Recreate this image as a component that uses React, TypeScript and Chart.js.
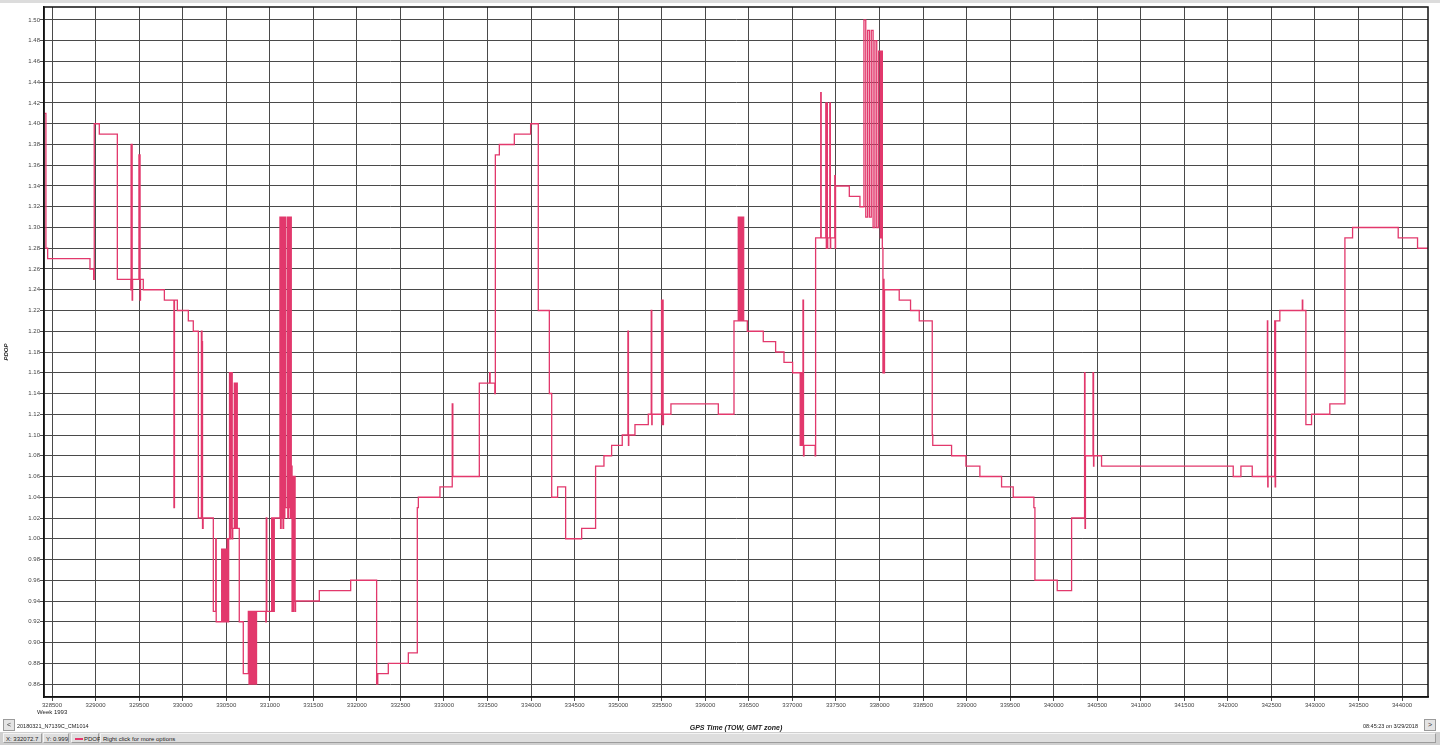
import React, { useEffect, useRef } from 'react';
import { Chart, registerables } from 'chart.js';

Chart.register(...registerables);

// GPS time of week (s) where each PDOP value starts (step series)
const gpsTime: number[] = [
  328410, 328430, 328450, 328936, 328978, 328985, 329043, 329250,
  329405, 329408, 329412, 329416, 329420, 329425,
  329498, 329503, 329507, 329511, 329516,
  329548, 329790, 329900, 329906, 329939, 330065, 330122,
  330180, 330215, 330222, 330228, 330235,
  330352, 330380, 330385,
  330448, 330456, 330464, 330472, 330480, 330488, 330496, 330504, 330512, 330520, 330528,
  330538, 330545, 330551, 330557, 330563, 330569, 330575,
  330593, 330600, 330607, 330614, 330620, 330627,
  330650, 330696,
  330754, 330762, 330770, 330778, 330786, 330794, 330802, 330810, 330818, 330826, 330834, 330842, 330848,
  330955, 330960, 330966,
  331022, 331030, 331038, 331046, 331052,
  331117, 331124, 331131, 331138, 331145, 331152, 331159, 331166, 331173, 331180,
  331200, 331207, 331214, 331221, 331228, 331235, 331242, 331247,
  331250, 331256, 331262, 331268, 331274, 331280, 331286, 331291, 331296,
  331569, 331929, 332227, 332240, 332361, 332591, 332694, 332706, 332954,
  333095, 333102, 333406, 333524, 333530, 333584, 333590, 333636, 333808, 333995,
  334083, 334210, 334237, 334305, 334397, 334581, 334741, 334837, 334925,
  335047, 335112, 335118, 335122, 335193, 335346, 335380, 335386, 335390,
  335498, 335504, 335510, 335516, 335520, 335606, 336150, 336330,
  336379, 336386, 336393, 336400, 336407, 336414, 336421, 336428, 336435, 336441,
  336483, 336666, 336808, 336904, 337003,
  337085, 337090, 337096, 337102, 337108, 337114, 337122, 337128, 337134, 337262, 337267,
  337326, 337331, 337384, 337390, 337396, 337402, 337406, 337430, 337436, 337440,
  337487, 337492, 337496, 337654, 337776,
  337822, 337843, 337864, 337885, 337906, 337927, 337948, 337969, 337990, 338011,
  338024, 338033,
  338040, 338046, 338052, 338058,
  338227, 338357, 338457, 338606, 338612, 338828, 338993, 339153, 339402, 339536,
  339773, 339785, 340041, 340206, 340355, 340360, 340365, 340452, 340458, 340462,
  340550, 342062, 342150, 342280, 342454, 342458, 342462, 342538, 342543, 342548,
  342597, 342855, 342860, 342896, 342961, 343171, 343344, 343432, 343956, 344178,
  344300,
];

const pdop: number[] = [
  1.41, 1.28, 1.27, 1.26, 1.25, 1.40, 1.39, 1.25,
  1.24, 1.38, 1.24, 1.38, 1.23, 1.25,
  1.37, 1.25, 1.37, 1.23, 1.25,
  1.24, 1.23, 1.03, 1.23, 1.22, 1.21, 1.20,
  1.02, 1.20, 1.19, 1.01, 1.02,
  0.93, 1.00, 0.92,
  0.99, 0.92, 0.99, 0.92, 0.99, 0.92, 0.99, 0.92, 1.00, 0.92, 1.00,
  1.16, 1.00, 1.16, 1.01, 1.16, 1.00, 1.01,
  1.15, 1.01, 1.15, 1.01, 1.15, 1.01,
  0.92, 0.87,
  0.93, 0.86, 0.93, 0.86, 0.93, 0.86, 0.93, 0.86, 0.93, 0.86, 0.93, 0.86, 0.93,
  0.92, 1.02, 0.93,
  1.02, 0.93, 1.02, 0.93, 1.02,
  1.31, 1.01, 1.31, 1.02, 1.31, 1.01, 1.31, 1.02, 1.31, 1.03,
  1.31, 1.02, 1.31, 1.03, 1.31, 1.02, 1.31, 1.03,
  1.07, 0.93, 1.06, 0.93, 1.06, 0.94, 1.06, 0.93, 0.94,
  0.95, 0.96, 0.86, 0.87, 0.88, 0.89, 1.03, 1.04, 1.05,
  1.13, 1.06, 1.15, 1.16, 1.15, 1.14, 1.37, 1.38, 1.39, 1.40,
  1.22, 1.14, 1.04, 1.05, 1.00, 1.01, 1.07, 1.08, 1.09,
  1.10, 1.20, 1.09, 1.10, 1.11, 1.12, 1.22, 1.11, 1.12,
  1.23, 1.11, 1.23, 1.11, 1.12, 1.13, 1.12, 1.21,
  1.31, 1.21, 1.31, 1.21, 1.31, 1.21, 1.31, 1.21, 1.31, 1.21,
  1.20, 1.19, 1.18, 1.17, 1.16,
  1.16, 1.09, 1.16, 1.09, 1.16, 1.09, 1.23, 1.08, 1.09, 1.08, 1.29,
  1.43, 1.29, 1.42, 1.28, 1.42, 1.28, 1.29, 1.42, 1.28, 1.29,
  1.35, 1.28, 1.34, 1.33, 1.32,
  1.50, 1.31, 1.49, 1.31, 1.49, 1.30, 1.48, 1.30, 1.47, 1.29,
  1.47, 1.28,
  1.16, 1.25, 1.16, 1.24,
  1.23, 1.22, 1.21, 1.10, 1.09, 1.08, 1.07, 1.06, 1.05, 1.04,
  1.03, 0.96, 0.95, 1.02, 1.16, 1.01, 1.08, 1.16, 1.07, 1.08,
  1.07, 1.06, 1.07, 1.06, 1.21, 1.05, 1.06, 1.21, 1.05, 1.21,
  1.22, 1.23, 1.22, 1.11, 1.12, 1.13, 1.29, 1.30, 1.29, 1.28,
  1.28,
];

const xTickValues: number[] = [
  328500, 329000, 329500, 330000, 330500, 331000, 331500, 332000,
  332500, 333000, 333500, 334000, 334500, 335000, 335500, 336000,
  336500, 337000, 337500, 338000, 338500, 339000, 339500, 340000,
  340500, 341000, 341500, 342000, 342500, 343000, 343500, 344000,
];

const yTickValues: number[] = [
  0.86, 0.88, 0.90, 0.92, 0.94, 0.96, 0.98, 1.00, 1.02, 1.04, 1.06,
  1.08, 1.10, 1.12, 1.14, 1.16, 1.18, 1.20, 1.22, 1.24, 1.26, 1.28,
  1.30, 1.32, 1.34, 1.36, 1.38, 1.40, 1.42, 1.44, 1.46, 1.48, 1.50,
];

const FONT = "'Liberation Sans', Arial, sans-serif";

const frameBorder = {
  id: 'frameBorder',
  afterDraw(chart: any) {
    const { ctx, chartArea } = chart;
    ctx.save();
    ctx.strokeStyle = '#111';
    ctx.lineWidth = 1.5;
    ctx.strokeRect(chartArea.left, chartArea.top, chartArea.right - chartArea.left, chartArea.bottom - chartArea.top);
    ctx.restore();
  },
};

export default function App() {
  const canvasRef = useRef<HTMLCanvasElement | null>(null);

  useEffect(() => {
    if (!canvasRef.current) return;
    const points = gpsTime.map((t, i) => ({ x: t, y: pdop[i] }));
    const chart = new Chart(canvasRef.current, {
      type: 'line',
      data: {
        datasets: [
          {
            label: 'PDOP',
            data: points,
            stepped: true,
            borderColor: '#e2386c',
            borderWidth: 1.3,
            pointRadius: 0,
            fill: false,
          },
        ],
      },
      options: {
        animation: false,
        responsive: true,
        maintainAspectRatio: false,
        layout: { padding: { left: 0, top: 7, right: 12, bottom: 14 } },
        plugins: { legend: { display: false }, tooltip: { enabled: false } },
        scales: {
          x: {
            type: 'linear',
            min: 328408,
            max: 344298,
            afterBuildTicks: (s: any) => {
              s.ticks = xTickValues.map((v) => ({ value: v }));
            },
            afterFit: (s: any) => {
              s.height = 35;
            },
            grid: { color: '#4a4a4a', lineWidth: 1, tickLength: 4 },
            border: { display: true, color: '#111', width: 1.5 },
            ticks: {
              autoSkip: false,
              maxRotation: 0,
              padding: 1,
              color: '#444',
              font: { family: FONT, size: 6 },
              callback: (v: any) => String(v),
            },
            title: {
              display: true,
              text: 'GPS Time (TOW, GMT zone)',
              color: '#222',
              padding: 0,
              font: { family: FONT, size: 7, style: 'italic', weight: 'bold' },
            },
          },
          y: {
            type: 'linear',
            min: 0.8475,
            max: 1.5125,
            afterBuildTicks: (s: any) => {
              s.ticks = yTickValues.map((v) => ({ value: v }));
            },
            afterFit: (s: any) => {
              s.width = 44;
            },
            grid: { color: '#4a4a4a', lineWidth: 1, tickLength: 4 },
            border: { display: true, color: '#111', width: 1.5 },
            ticks: {
              autoSkip: false,
              padding: 0,
              color: '#444',
              font: { family: FONT, size: 6 },
              callback: (v: any) => Number(v).toFixed(2),
            },
            title: {
              display: true,
              text: 'PDOP',
              color: '#222',
              padding: { top: 3, bottom: 0 },
              font: { family: FONT, size: 6, style: 'italic', weight: 'bold' },
            },
          },
        },
      },
      plugins: [frameBorder],
    });
    return () => chart.destroy();
  }, []);

  const small: React.CSSProperties = { position: 'absolute', fontFamily: FONT, fontSize: 6, color: '#222', whiteSpace: 'nowrap', lineHeight: '8px' };
  const btn: React.CSSProperties = {
    position: 'absolute', width: 10, height: 10, background: '#e4e4e4', border: '1px solid #9a9a9a',
    fontFamily: FONT, fontSize: 7, lineHeight: '10px', textAlign: 'center', color: '#333',
  };
  const cell: React.CSSProperties = {
    position: 'absolute', top: 1, height: 10, background: '#dedede', borderLeft: '1px solid #f4f4f4', borderTop: '1px solid #f4f4f4',
    borderRight: '1px solid #9c9c9c', borderBottom: '1px solid #9c9c9c', fontFamily: FONT, fontSize: 6, lineHeight: '10px',
    color: '#222', whiteSpace: 'nowrap', paddingLeft: 2, boxSizing: 'border-box',
  };

  return (
    <div style={{ position: 'absolute', left: 0, top: 0, width: 1440, height: 746, background: '#fff', overflow: 'hidden' }}>
      <div style={{ position: 'absolute', left: 0, top: 0, width: 1440, height: 3, background: '#dcdcdc' }} />
      <canvas ref={canvasRef} style={{ position: 'absolute', left: 0, top: 0, width: 1440, height: 746 }} />
      <div style={{ ...small, left: 37, top: 708 }}>Week 1993</div>
      <div style={{ ...btn, left: 3, top: 719 }}>&lt;</div>
      <div style={{ ...small, left: 17, top: 722, fontSize: 5.5 }}>20180321_N7139C_CM1014</div>
      <div style={{ ...small, right: 22, top: 722, fontSize: 5.5 }}>08:45:23 on 3/29/2018</div>
      <div style={{ ...btn, left: 1424, top: 719 }}>&gt;</div>
      <div style={{ position: 'absolute', left: 0, top: 732, width: 1440, height: 13, background: '#cfcfcf' }}>
        <div style={{ ...cell, left: 3, width: 39 }}>X: 332072.7</div>
        <div style={{ ...cell, left: 43, width: 26 }}>Y: 0.999</div>
        <div style={{ ...cell, left: 71, width: 28, paddingLeft: 12 }}>
          <span style={{ position: 'absolute', left: 3, top: 4, width: 8, height: 1.5, background: '#e2386c' }} />
          PDOP
        </div>
        <div style={{ ...cell, left: 100, width: 1336 }}>Right click for more options</div>
      </div>
    </div>
  );
}
